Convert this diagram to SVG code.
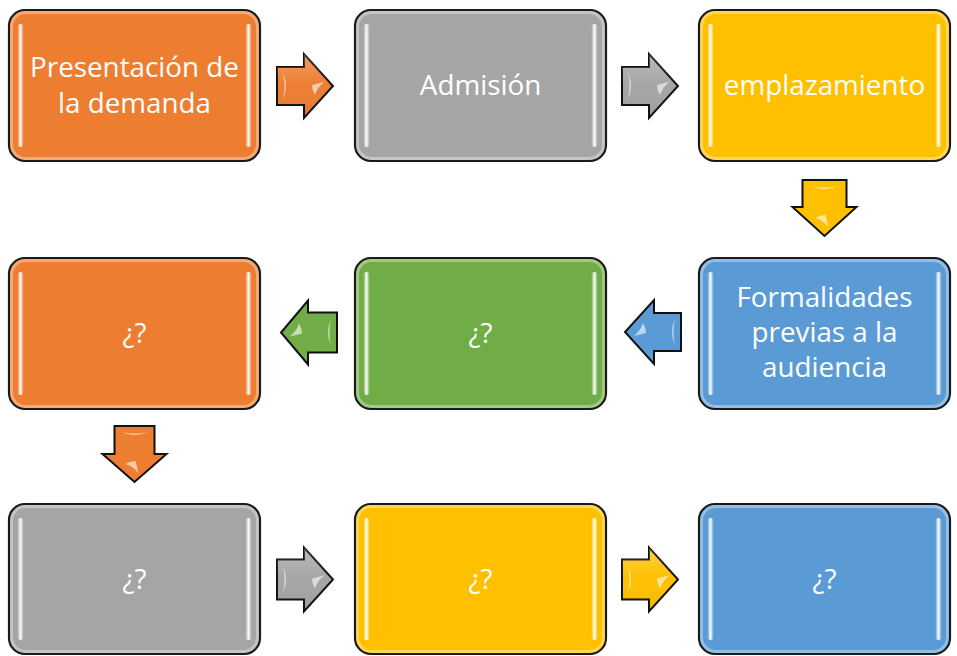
<svg xmlns="http://www.w3.org/2000/svg" width="957" height="656" viewBox="0 0 957 656">
<style>
  .box { stroke: #1a1a1a; stroke-width: 2.2; }
  .ring { fill: none; stroke: #ffffff; stroke-opacity: 0.35; stroke-width: 3; }
  .bar { fill: url(#barGrad); }
  .lbl { font-family: "Open Sans", "Liberation Sans", sans-serif; font-size: 27.8px; fill: #ffffff; text-anchor: middle; }
  .arr { stroke: #111111; stroke-width: 2; stroke-linejoin: miter; }
  .glint { fill: #ffffff; fill-opacity: 0.6; }
  .orange { fill: #ED7D31; }
  .gray { fill: #A5A5A5; }
  .yellow { fill: #FFC000; }
  .blue { fill: #5B9BD5; }
  .green { fill: #70AD47; }
</style>
<defs>
  <linearGradient id="barGrad" x1="0" y1="0" x2="1" y2="0">
    <stop offset="0" stop-color="#ffffff" stop-opacity="0.1"/>
    <stop offset="0.5" stop-color="#ffffff" stop-opacity="0.95"/>
    <stop offset="1" stop-color="#ffffff" stop-opacity="0.1"/>
  </linearGradient>
  <linearGradient id="arrShade" x1="0" y1="0" x2="0" y2="1">
    <stop offset="0" stop-color="#ffffff" stop-opacity="0.25"/>
    <stop offset="0.5" stop-color="#ffffff" stop-opacity="0"/>
    <stop offset="1" stop-color="#000000" stop-opacity="0.08"/>
  </linearGradient>
</defs>

<g id="connectors">
  <g transform="translate(277,86)">
    <path class="arr orange" d="M0,-19 H27 V-32 L56,0 L27,32 V19 H0 Z"/>
    <path fill="url(#arrShade)" d="M0,-19 H27 V-32 L56,0 L27,32 V19 H0 Z"/>
    <path class="glint" d="M6,-13 Q12,0 6,13 Q9,0 6,-13 Z"/>
    <path class="glint" d="M35,-1 L47,-4 Q40,2 38,9 Q35,4 35,-1 Z"/>
  </g>
  <g transform="translate(622,86)">
    <path class="arr gray" d="M0,-19 H27 V-32 L56,0 L27,32 V19 H0 Z"/>
    <path fill="url(#arrShade)" d="M0,-19 H27 V-32 L56,0 L27,32 V19 H0 Z"/>
    <path class="glint" d="M6,-13 Q12,0 6,13 Q9,0 6,-13 Z"/>
    <path class="glint" d="M35,-1 L47,-4 Q40,2 38,9 Q35,4 35,-1 Z"/>
  </g>
  <g transform="translate(824.5,180) rotate(90)">
    <path class="arr yellow" d="M0,-22 H27 V-32 L56,0 L27,32 V22 H0 Z"/>
    <path class="glint" d="M6,-13 Q12,0 6,13 Q9,0 6,-13 Z"/>
    <path class="glint" d="M35,-1 L47,-4 Q40,2 38,9 Q35,4 35,-1 Z"/>
  </g>
  <g transform="translate(681,332) rotate(180)">
    <path class="arr blue" d="M0,-19 H27 V-32 L56,0 L27,32 V19 H0 Z"/>
    <path class="glint" d="M6,-13 Q12,0 6,13 Q9,0 6,-13 Z"/>
    <path class="glint" d="M35,-1 L47,-4 Q40,2 38,9 Q35,4 35,-1 Z"/>
  </g>
  <g transform="translate(337,332.5) rotate(180)">
    <path class="arr green" d="M0,-20 H29 V-32 L56,0 L29,32 V20 H0 Z"/>
    <path class="glint" d="M6,-13 Q12,0 6,13 Q9,0 6,-13 Z"/>
    <path class="glint" d="M35,-1 L47,-4 Q40,2 38,9 Q35,4 35,-1 Z"/>
  </g>
  <g transform="translate(134.5,426) rotate(90)">
    <path class="arr orange" d="M0,-20 H28 V-32 L56,0 L28,32 V20 H0 Z"/>
    <path class="glint" d="M6,-13 Q12,0 6,13 Q9,0 6,-13 Z"/>
    <path class="glint" d="M35,-1 L47,-4 Q40,2 38,9 Q35,4 35,-1 Z"/>
  </g>
  <g transform="translate(277,579.5)">
    <path class="arr gray" d="M0,-20 H27 V-32 L56,0 L27,32 V20 H0 Z"/>
    <path fill="url(#arrShade)" d="M0,-20 H27 V-32 L56,0 L27,32 V20 H0 Z"/>
    <path class="glint" d="M6,-13 Q12,0 6,13 Q9,0 6,-13 Z"/>
    <path class="glint" d="M35,-1 L47,-4 Q40,2 38,9 Q35,4 35,-1 Z"/>
  </g>
  <g transform="translate(622,579.5)">
    <path class="arr yellow" d="M0,-20 H27 V-32 L56,0 L27,32 V20 H0 Z"/>
    <path fill="url(#arrShade)" d="M0,-20 H27 V-32 L56,0 L27,32 V20 H0 Z"/>
    <path class="glint" d="M6,-13 Q12,0 6,13 Q9,0 6,-13 Z"/>
    <path class="glint" d="M35,-1 L47,-4 Q40,2 38,9 Q35,4 35,-1 Z"/>
  </g>
</g>

<g id="node-1">
  <rect class="box orange" x="9" y="10" width="251" height="151" rx="16"/>
  <rect class="ring" x="11.5" y="12.5" width="246" height="146" rx="14"/>
  <rect class="bar" x="17.5" y="24" width="6" height="123" rx="3"/>
  <rect class="bar" x="245.5" y="24" width="6" height="123" rx="3"/>
  <text class="lbl" x="134.5" y="77">Presentación de</text>
  <text class="lbl" x="134.5" y="113">la demanda</text>
</g>
<g id="node-2">
  <rect class="box gray" x="355" y="10" width="251" height="151" rx="16"/>
  <rect class="ring" x="357.5" y="12.5" width="246" height="146" rx="14"/>
  <rect class="bar" x="363.5" y="24" width="6" height="123" rx="3"/>
  <rect class="bar" x="591.5" y="24" width="6" height="123" rx="3"/>
  <text class="lbl" x="480.5" y="95">Admisión</text>
</g>
<g id="node-3">
  <rect class="box yellow" x="699" y="10" width="251" height="151" rx="16"/>
  <rect class="ring" x="701.5" y="12.5" width="246" height="146" rx="14"/>
  <rect class="bar" x="707.5" y="24" width="6" height="123" rx="3"/>
  <rect class="bar" x="935.5" y="24" width="6" height="123" rx="3"/>
  <text class="lbl" x="824.5" y="95">emplazamiento</text>
</g>

<g id="node-4">
  <rect class="box blue" x="699" y="258" width="251" height="151" rx="16"/>
  <rect class="ring" x="701.5" y="260.5" width="246" height="146" rx="14"/>
  <rect class="bar" x="707.5" y="272" width="6" height="123" rx="3"/>
  <rect class="bar" x="935.5" y="272" width="6" height="123" rx="3"/>
  <text class="lbl" x="824.5" y="307">Formalidades</text>
  <text class="lbl" x="824.5" y="342">previas a la</text>
  <text class="lbl" x="824.5" y="377">audiencia</text>
</g>
<g id="node-5">
  <rect class="box green" x="355" y="258" width="251" height="151" rx="16"/>
  <rect class="ring" x="357.5" y="260.5" width="246" height="146" rx="14"/>
  <rect class="bar" x="363.5" y="272" width="6" height="123" rx="3"/>
  <rect class="bar" x="591.5" y="272" width="6" height="123" rx="3"/>
  <text class="lbl" x="480.5" y="343">¿?</text>
</g>
<g id="node-6">
  <rect class="box orange" x="9" y="258" width="251" height="151" rx="16"/>
  <rect class="ring" x="11.5" y="260.5" width="246" height="146" rx="14"/>
  <rect class="bar" x="17.5" y="272" width="6" height="123" rx="3"/>
  <rect class="bar" x="245.5" y="272" width="6" height="123" rx="3"/>
  <text class="lbl" x="134.5" y="343">¿?</text>
</g>

<g id="node-7">
  <rect class="box gray" x="9" y="504" width="251" height="150" rx="16"/>
  <rect class="ring" x="11.5" y="506.5" width="246" height="145" rx="14"/>
  <rect class="bar" x="17.5" y="518" width="6" height="122" rx="3"/>
  <rect class="bar" x="245.5" y="518" width="6" height="122" rx="3"/>
  <text class="lbl" x="134.5" y="589">¿?</text>
</g>
<g id="node-8">
  <rect class="box yellow" x="355" y="504" width="251" height="150" rx="16"/>
  <rect class="ring" x="357.5" y="506.5" width="246" height="145" rx="14"/>
  <rect class="bar" x="363.5" y="518" width="6" height="122" rx="3"/>
  <rect class="bar" x="591.5" y="518" width="6" height="122" rx="3"/>
  <text class="lbl" x="480.5" y="589">¿?</text>
</g>
<g id="node-9">
  <rect class="box blue" x="699" y="504" width="251" height="150" rx="16"/>
  <rect class="ring" x="701.5" y="506.5" width="246" height="145" rx="14"/>
  <rect class="bar" x="707.5" y="518" width="6" height="122" rx="3"/>
  <rect class="bar" x="935.5" y="518" width="6" height="122" rx="3"/>
  <text class="lbl" x="824.5" y="589">¿?</text>
</g>
</svg>
